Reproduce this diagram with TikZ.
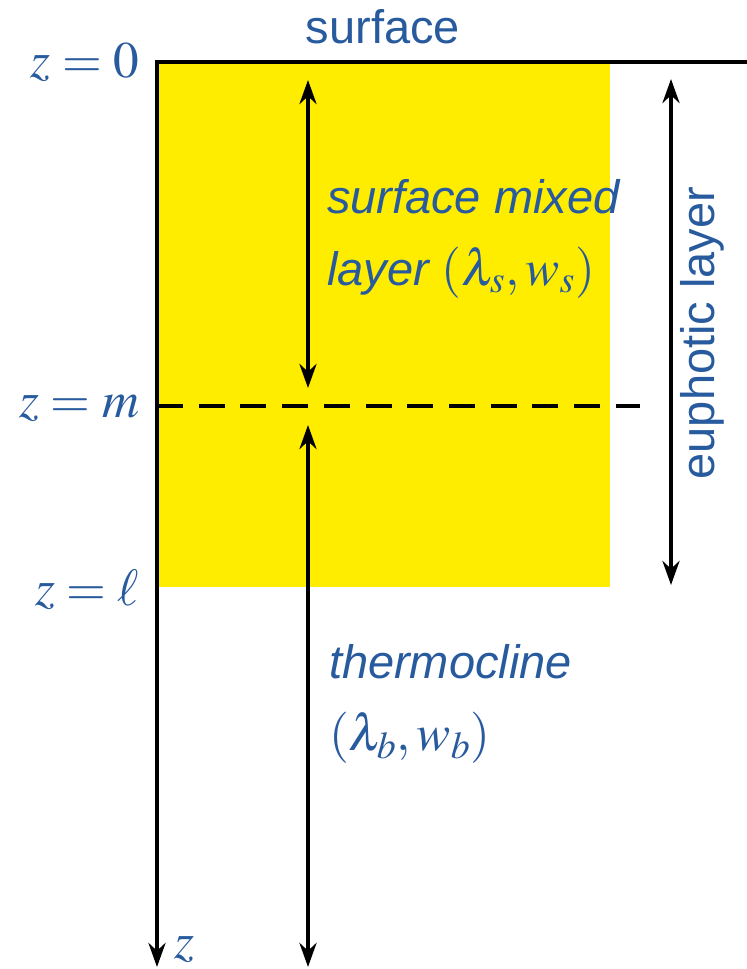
\documentclass[tikz,border=0pt]{standalone}
\usepackage{mathptmx}
\usepackage[no-math]{fontspec}
\setmainfont{Liberation Sans}
\usetikzlibrary{arrows.meta}
\definecolor{labelblue}{RGB}{40,90,158}
\definecolor{layeryellow}{RGB}{255,237,0}
\newcommand{\mth}[1]{{\fontsize{25.6}{36}\selectfont$#1$}}

\begin{document}
\begin{tikzpicture}[x=0.5pt, y=-0.5pt, line width=2pt,
    tip/.tip={Stealth[length=12pt, width=8.5pt]},
    lbl/.style={text=labelblue, inner sep=0pt, font=\fontsize{23.5}{36}\selectfont}]
  \useasboundingbox (0,0) rectangle (747,969);
  % Depth levels
  \coordinate (origin) at (157,62);
  \coordinate (surfend) at (747,62);
  \coordinate (axend) at (157,967);
  \coordinate (dashstart) at (157,406);
  \coordinate (dashend) at (640,406);
  % Yellow band down to z = l
  \fill[layeryellow] (origin) rectangle (610,587);
  % Surface and depth axis
  \draw[-tip] (surfend) -- (origin) -- (axend);
  % Base of the mixed layer
  \draw[dash pattern=on 13pt off 7.85pt] (dashstart) -- (dashend);
  % Layer extents
  \coordinate (mixtop) at (308,80);
  \coordinate (mixbot) at (308,388);
  \coordinate (thtop) at (308,425);
  \coordinate (thbot) at (308,967);
  \coordinate (eutop) at (671,79);
  \coordinate (eubot) at (671,585);
  \draw[tip-tip] (mixtop) -- (mixbot);
  \draw[tip-tip] (thtop) -- (thbot);
  \draw[tip-tip] (eutop) -- (eubot);
  % Labels
  \node[lbl, anchor=base] (surf) at (383,43) {surface};
  \node[lbl, anchor=base east] (zzero) at (141,77) {\mth{z=0}};
  \node[lbl, anchor=base east] (zm) at (141,417) {\mth{z=m}};
  \node[lbl, anchor=base east] (zl) at (141,605) {\mth{z=\ell}};
  \node[lbl, anchor=base west] (zax) at (172,958) {\mth{z}};
  \node[lbl, anchor=base west, align=left] (mixed) at (325,285)
    {\itshape surface mixed\\\itshape layer \mth{(\lambda_s,w_s)}};
  \node[lbl, anchor=base west, align=left] (thermo) at (327,750)
    {\itshape thermocline\\\mth{(\lambda_b,w_b)}};
  \node[lbl, rotate=90] (eupho) at (702,333) {euphotic layer};
\end{tikzpicture}
\end{document}
